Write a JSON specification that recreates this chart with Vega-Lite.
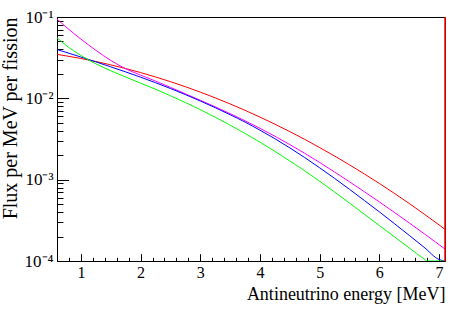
{
  "$schema": "https://vega.github.io/schema/vega-lite/v6.json",
  "width": 388,
  "height": 244,
  "autosize": "none",
  "padding": {"left": 57, "top": 17, "right": 19, "bottom": 48},
  "background": "white",
  "config": {
    "view": {"stroke": "black", "strokeWidth": 1},
    "font": "Liberation Serif",
    "axis": {"grid": false, "domainColor": "black", "tickColor": "black", "labelColor": "black", "titleColor": "black", "labelFont": "Liberation Serif", "titleFont": "Liberation Serif", "titleFontWeight": "normal"}
  },
  "datasets": {
    "spectra": [
      {"E": 0.6, "flux": 0.0347, "iso": "U238"},
      {"E": 0.75, "flux": 0.0333, "iso": "U238"},
      {"E": 1.0, "flux": 0.0309, "iso": "U238"},
      {"E": 1.25, "flux": 0.02836, "iso": "U238"},
      {"E": 1.5, "flux": 0.0258, "iso": "U238"},
      {"E": 1.75, "flux": 0.02324, "iso": "U238"},
      {"E": 2.0, "flux": 0.02074, "iso": "U238"},
      {"E": 2.25, "flux": 0.01832, "iso": "U238"},
      {"E": 2.5, "flux": 0.01604, "iso": "U238"},
      {"E": 2.75, "flux": 0.0139, "iso": "U238"},
      {"E": 3.0, "flux": 0.01193, "iso": "U238"},
      {"E": 3.25, "flux": 0.01014, "iso": "U238"},
      {"E": 3.5, "flux": 0.00854, "iso": "U238"},
      {"E": 3.75, "flux": 0.00712, "iso": "U238"},
      {"E": 4.0, "flux": 0.00588, "iso": "U238"},
      {"E": 4.25, "flux": 0.00481, "iso": "U238"},
      {"E": 4.5, "flux": 0.0039, "iso": "U238"},
      {"E": 4.75, "flux": 0.00313, "iso": "U238"},
      {"E": 5.0, "flux": 0.00248, "iso": "U238"},
      {"E": 5.25, "flux": 0.001953, "iso": "U238"},
      {"E": 5.5, "flux": 0.001522, "iso": "U238"},
      {"E": 5.75, "flux": 0.001175, "iso": "U238"},
      {"E": 6.0, "flux": 0.000898, "iso": "U238"},
      {"E": 6.25, "flux": 0.00068, "iso": "U238"},
      {"E": 6.5, "flux": 0.00051, "iso": "U238"},
      {"E": 6.75, "flux": 0.000378, "iso": "U238"},
      {"E": 7.0, "flux": 0.000278, "iso": "U238"},
      {"E": 7.1, "flux": 0.000245, "iso": "U238"},

      {"E": 0.6, "flux": 0.0944, "iso": "U235"},
      {"E": 0.75, "flux": 0.0755, "iso": "U235"},
      {"E": 1.0, "flux": 0.0535, "iso": "U235"},
      {"E": 1.25, "flux": 0.039, "iso": "U235"},
      {"E": 1.5, "flux": 0.0293, "iso": "U235"},
      {"E": 1.75, "flux": 0.0231, "iso": "U235"},
      {"E": 2.0, "flux": 0.0193, "iso": "U235"},
      {"E": 2.25, "flux": 0.0163, "iso": "U235"},
      {"E": 2.5, "flux": 0.01365, "iso": "U235"},
      {"E": 2.75, "flux": 0.01138, "iso": "U235"},
      {"E": 3.0, "flux": 0.00948, "iso": "U235"},
      {"E": 3.25, "flux": 0.00787, "iso": "U235"},
      {"E": 3.5, "flux": 0.00649, "iso": "U235"},
      {"E": 3.75, "flux": 0.0053, "iso": "U235"},
      {"E": 4.0, "flux": 0.00428, "iso": "U235"},
      {"E": 4.25, "flux": 0.00342, "iso": "U235"},
      {"E": 4.5, "flux": 0.0027, "iso": "U235"},
      {"E": 4.75, "flux": 0.00211, "iso": "U235"},
      {"E": 5.0, "flux": 0.001627, "iso": "U235"},
      {"E": 5.25, "flux": 0.001242, "iso": "U235"},
      {"E": 5.5, "flux": 0.000942, "iso": "U235"},
      {"E": 5.75, "flux": 0.00071, "iso": "U235"},
      {"E": 6.0, "flux": 0.000533, "iso": "U235"},
      {"E": 6.25, "flux": 0.000397, "iso": "U235"},
      {"E": 6.5, "flux": 0.000294, "iso": "U235"},
      {"E": 6.75, "flux": 0.000217, "iso": "U235"},
      {"E": 7.0, "flux": 0.000159, "iso": "U235"},
      {"E": 7.1, "flux": 0.00014, "iso": "U235"},

      {"E": 0.6, "flux": 0.0398, "iso": "Pu241"},
      {"E": 0.75, "flux": 0.0368, "iso": "Pu241"},
      {"E": 1.0, "flux": 0.0322, "iso": "Pu241"},
      {"E": 1.25, "flux": 0.0281, "iso": "Pu241"},
      {"E": 1.5, "flux": 0.0244, "iso": "Pu241"},
      {"E": 1.75, "flux": 0.02115, "iso": "Pu241"},
      {"E": 2.0, "flux": 0.01821, "iso": "Pu241"},
      {"E": 2.25, "flux": 0.01557, "iso": "Pu241"},
      {"E": 2.5, "flux": 0.01322, "iso": "Pu241"},
      {"E": 2.75, "flux": 0.01112, "iso": "Pu241"},
      {"E": 3.0, "flux": 0.00928, "iso": "Pu241"},
      {"E": 3.25, "flux": 0.00767, "iso": "Pu241"},
      {"E": 3.5, "flux": 0.00629, "iso": "Pu241"},
      {"E": 3.75, "flux": 0.00511, "iso": "Pu241"},
      {"E": 4.0, "flux": 0.00406, "iso": "Pu241"},
      {"E": 4.25, "flux": 0.00319, "iso": "Pu241"},
      {"E": 4.5, "flux": 0.00246, "iso": "Pu241"},
      {"E": 4.75, "flux": 0.00187, "iso": "Pu241"},
      {"E": 5.0, "flux": 0.0014, "iso": "Pu241"},
      {"E": 5.25, "flux": 0.001038, "iso": "Pu241"},
      {"E": 5.5, "flux": 0.000761, "iso": "Pu241"},
      {"E": 5.75, "flux": 0.000554, "iso": "Pu241"},
      {"E": 6.0, "flux": 0.000402, "iso": "Pu241"},
      {"E": 6.25, "flux": 0.000289, "iso": "Pu241"},
      {"E": 6.5, "flux": 0.000207, "iso": "Pu241"},
      {"E": 6.75, "flux": 0.0001475, "iso": "Pu241"},
      {"E": 7.0, "flux": 0.0001044, "iso": "Pu241"},
      {"E": 7.1, "flux": 0.0001, "iso": "Pu241"},

      {"E": 0.6, "flux": 0.0556, "iso": "Pu239"},
      {"E": 0.75, "flux": 0.0449, "iso": "Pu239"},
      {"E": 1.0, "flux": 0.0337, "iso": "Pu239"},
      {"E": 1.25, "flux": 0.0266, "iso": "Pu239"},
      {"E": 1.5, "flux": 0.02185, "iso": "Pu239"},
      {"E": 1.75, "flux": 0.01828, "iso": "Pu239"},
      {"E": 2.0, "flux": 0.01538, "iso": "Pu239"},
      {"E": 2.25, "flux": 0.01294, "iso": "Pu239"},
      {"E": 2.5, "flux": 0.01076, "iso": "Pu239"},
      {"E": 2.75, "flux": 0.00888, "iso": "Pu239"},
      {"E": 3.0, "flux": 0.00726, "iso": "Pu239"},
      {"E": 3.25, "flux": 0.00586, "iso": "Pu239"},
      {"E": 3.5, "flux": 0.00469, "iso": "Pu239"},
      {"E": 3.75, "flux": 0.0037, "iso": "Pu239"},
      {"E": 4.0, "flux": 0.00289, "iso": "Pu239"},
      {"E": 4.25, "flux": 0.00223, "iso": "Pu239"},
      {"E": 4.5, "flux": 0.0017, "iso": "Pu239"},
      {"E": 4.75, "flux": 0.001283, "iso": "Pu239"},
      {"E": 5.0, "flux": 0.000957, "iso": "Pu239"},
      {"E": 5.25, "flux": 0.000705, "iso": "Pu239"},
      {"E": 5.5, "flux": 0.000515, "iso": "Pu239"},
      {"E": 5.75, "flux": 0.000375, "iso": "Pu239"},
      {"E": 6.0, "flux": 0.000273, "iso": "Pu239"},
      {"E": 6.25, "flux": 0.000199, "iso": "Pu239"},
      {"E": 6.5, "flux": 0.000145, "iso": "Pu239"},
      {"E": 6.75, "flux": 0.0001058, "iso": "Pu239"},
      {"E": 6.8, "flux": 0.0001, "iso": "Pu239"},
      {"E": 7.0, "flux": 0.0001, "iso": "Pu239"},
      {"E": 7.1, "flux": 0.0001, "iso": "Pu239"}
    ],
    "edge": [
      {"E": 7.1, "lo": 0.0001, "hi": 0.1}
    ]
  },
  "resolve": {"axis": {"x": "independent", "y": "independent"}},
  "layer": [
    {
      "data": {"name": "spectra"},
      "mark": {"type": "point", "opacity": 0},
      "encoding": {
        "x": {"field": "E", "type": "quantitative",
          "scale": {"domain": [0.6, 7.1], "nice": false, "zero": false},
          "axis": {"orient": "bottom", "values": [0.8, 1.2, 1.4, 1.6, 1.8, 2.2, 2.4, 2.6, 2.8, 3.2, 3.4, 3.6, 3.8, 4.2, 4.4, 4.6, 4.8, 5.2, 5.4, 5.6, 5.8, 6.2, 6.4, 6.6, 6.8], "labels": false, "domain": false, "tickSize": -3.7, "title": null}},
        "y": {"field": "flux", "type": "quantitative",
          "scale": {"type": "log", "domain": [0.0001, 0.1], "nice": false},
          "axis": {"orient": "left", "values": [0.0002, 0.0003, 0.0004, 0.0005, 0.0006, 0.0007, 0.0008, 0.0009, 0.002, 0.003, 0.004, 0.005, 0.006, 0.007, 0.008, 0.009, 0.02, 0.03, 0.04, 0.05, 0.06, 0.07, 0.08, 0.09], "labels": false, "domain": false, "tickSize": -6, "title": null}}
      }
    },
    {
      "data": {"name": "spectra"},
      "mark": {"type": "line", "strokeWidth": 1, "interpolate": "monotone", "clip": true},
      "encoding": {
        "x": {"field": "E", "type": "quantitative",
          "scale": {"domain": [0.6, 7.1], "nice": false, "zero": false},
          "axis": {"orient": "bottom", "values": [1, 2, 3, 4, 5, 6, 7], "tickSize": -7.3, "labelPadding": 11, "labelFontSize": 16, "domainWidth": 1,
            "title": "Antineutrino energy [MeV]", "titleFontSize": 18, "titleAnchor": "end", "titlePadding": 5}},
        "y": {"field": "flux", "type": "quantitative",
          "scale": {"type": "log", "domain": [0.0001, 0.1], "nice": false},
          "axis": {"orient": "left", "values": [0.0001, 0.001, 0.01, 0.1], "tickSize": -11.6, "labelPadding": 15.6, "labelFontSize": 17, "domainWidth": 1,
            "labelExpr": "'10' + (datum.value > 0.05 ? '⁻¹' : datum.value > 0.005 ? '⁻²' : datum.value > 0.0005 ? '⁻³' : '⁻⁴')",
            "title": "Flux per MeV per fission", "titleFontSize": 20, "titleAnchor": "end", "titlePadding": 4}},
        "color": {"field": "iso", "type": "nominal",
          "scale": {"domain": ["U238", "U235", "Pu241", "Pu239"], "range": ["#ff0000", "#ff00ff", "#0000ff", "#00ff00"]},
          "legend": null}
      }
    },
    {
      "data": {"name": "edge"},
      "mark": {"type": "rule", "color": "#ff0000", "strokeWidth": 1.5},
      "encoding": {
        "x": {"field": "E", "type": "quantitative", "scale": {"domain": [0.6, 7.1], "nice": false, "zero": false}, "axis": null},
        "y": {"field": "lo", "type": "quantitative", "scale": {"type": "log", "domain": [0.0001, 0.1], "nice": false}, "axis": null},
        "y2": {"field": "hi"}
      }
    }
  ]
}
